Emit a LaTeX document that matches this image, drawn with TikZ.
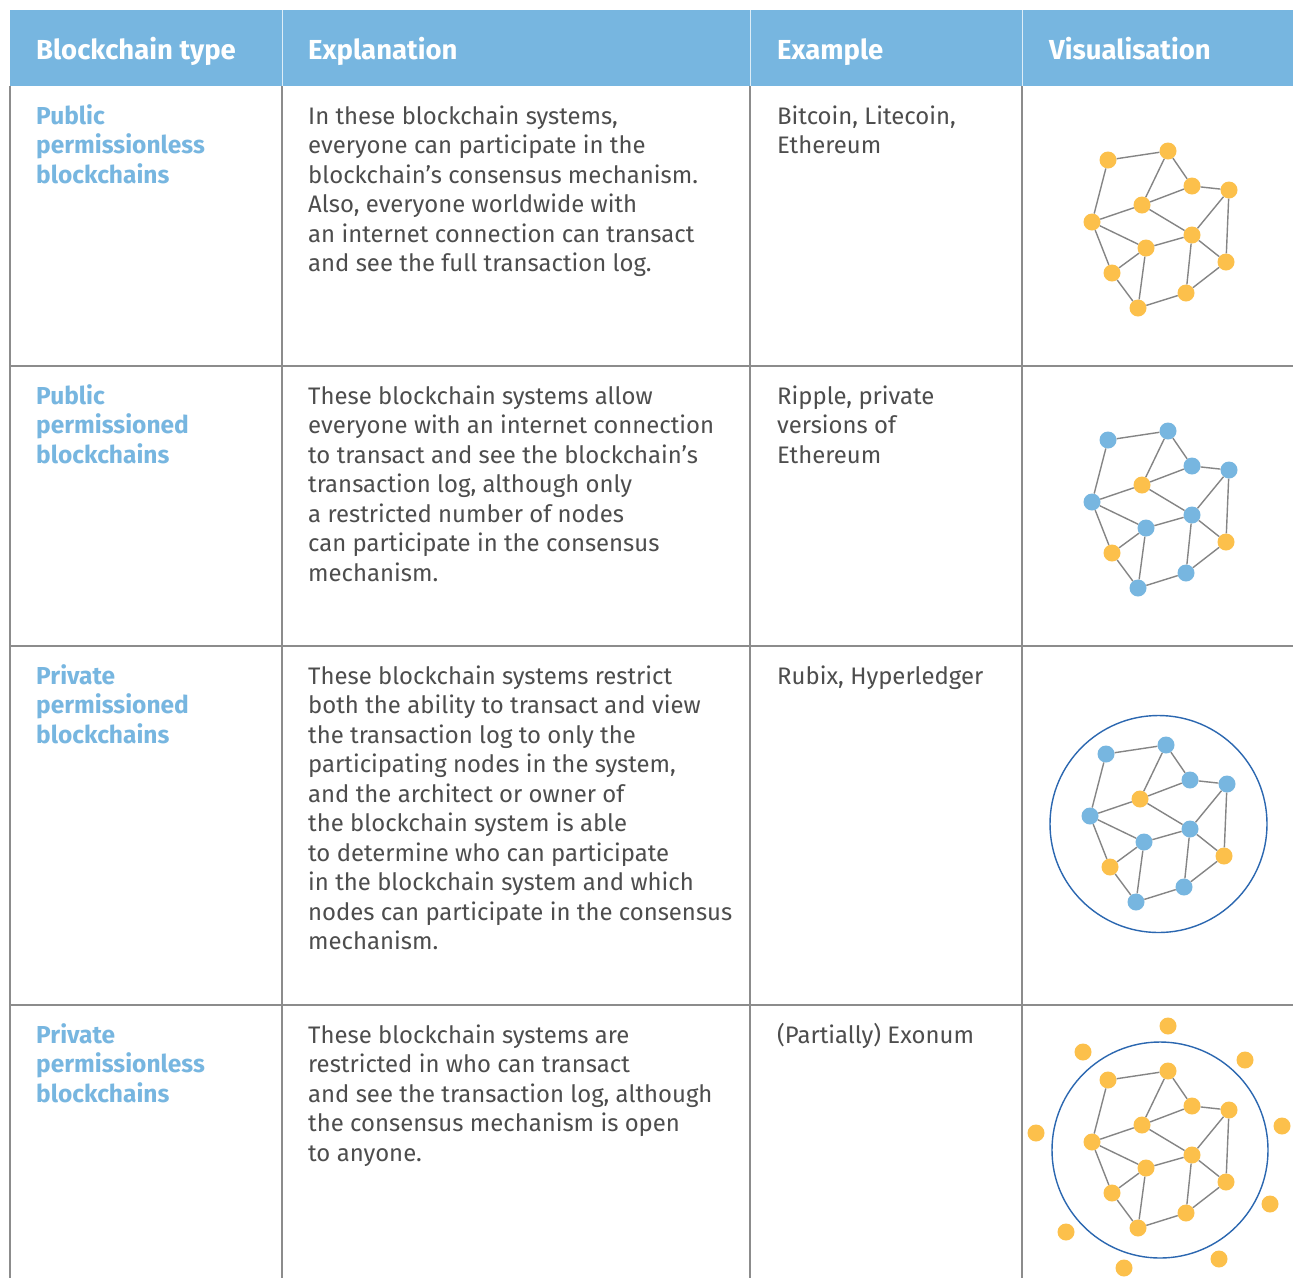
\documentclass[tikz,border=0pt]{standalone}
\usepackage{fontspec}
\setmainfont{Fira Sans}
\definecolor{hdr}{HTML}{77B6E0}
\definecolor{blu}{HTML}{77B6E0}
\definecolor{org}{HTML}{FCC04B}
\definecolor{txt}{HTML}{4D4D4D}
\definecolor{grid}{HTML}{8C8C8C}
\definecolor{ring}{HTML}{2B67B0}
\definecolor{edgec}{HTML}{858585}
\newcommand{\cell}[1]{\parbox[t]{600pt}{\raggedright #1}}
\tikzset{
  hdrtext/.style={anchor=base west, inner sep=0pt, text=white, font=\fontsize{27.5}{30}\selectfont\bfseries},
  bodytext/.style={anchor=base west, inner sep=0pt, text=txt, font=\fontsize{23.9}{29.5}\selectfont},
  typetext/.style={anchor=base west, inner sep=0pt, text=blu, font=\fontsize{24.5}{29.5}\selectfont\bfseries},
  gridline/.style={draw=grid, line width=1.3pt},
  dot/.style={circle, draw=none, inner sep=0pt, minimum size=17pt},
  edge/.style={draw=edgec, line width=1.4pt},
  ringc/.style={circle, draw=ring, line width=1.4pt, inner sep=0pt, fill=none}
}
\newcommand{\netgraph}[3]{%
\begin{scope}[shift={#2}]
\foreach \i/\x/\y in {1/1108/160,2/1168/151,3/1192/186,4/1229/190,5/1142/205,6/1092/222,7/1192/235,8/1146/248,9/1226/262,10/1112/273,11/1186/293,12/1138/308}
  \coordinate (#1c\i) at (\x,\y);
\end{scope}
\foreach \i/\c in {#3}
  \node[dot, fill=\c] (#1\i) at (#1c\i) {};
\foreach \a/\b in {1/2,1/6,2/5,2/3,3/4,3/5,5/6,5/7,4/7,4/9,6/8,6/10,7/8,7/9,7/11,8/10,8/12,10/12,9/11,11/12}
  \draw[edge] (#1\a) -- (#1\b);
}
\begin{document}
\begin{tikzpicture}[x=1pt,y=-1pt]
\useasboundingbox (0,0) rectangle (1293,1278);
\fill[white] (0,0) rectangle (1293,1278);
% header
\fill[hdr] (10,10) rectangle (1293,86);
\foreach \xx in {282,750,1022} \draw[white!75!hdr, line width=1pt] (\xx,10) -- (\xx,86);
% grid
\foreach \xx in {10,282,750,1022} \draw[gridline] (\xx,86) -- (\xx,1278);
\foreach \yy in {366,646,1005} \draw[gridline] (10,\yy) -- (1293,\yy);
% header texts
\node[hdrtext] (h1) at (36,59) {Blockchain type};
\node[hdrtext] (h2) at (308,59) {Explanation};
\node[hdrtext] (h3) at (777,59) {Example};
\node[hdrtext] (h4) at (1049,59) {Visualisation};
% row 1
\node[typetext] (t1) at (36,124) {\cell{Public\\permissionless\\blockchains}};
\node[bodytext] (e1) at (308,124) {\cell{In these blockchain systems,\\everyone can participate in the\\blockchain’s consensus mechanism.\\Also, everyone worldwide with\\an internet connection can transact\\and see the full transaction log.}};
\node[bodytext] (x1) at (777,124) {\cell{Bitcoin, Litecoin,\\Ethereum}};
% row 2
\node[typetext] (t2) at (36,404) {\cell{Public\\permissioned\\blockchains}};
\node[bodytext] (e2) at (308,404) {\cell{These blockchain systems allow\\everyone with an internet connection\\to transact and see the blockchain’s\\transaction log, although only\\a restricted number of nodes\\can participate in the consensus\\mechanism.}};
\node[bodytext] (x2) at (777,404) {\cell{Ripple, private\\versions of\\Ethereum}};
% row 3
\node[typetext] (t3) at (36,684) {\cell{Private\\permissioned\\blockchains}};
\node[bodytext] (e3) at (308,684) {\cell{These blockchain systems restrict\\both the ability to transact and view\\the transaction log to only the\\participating nodes in the system,\\and the architect or owner of\\the blockchain system is able\\to determine who can participate\\in the blockchain system and which\\nodes can participate in the consensus\\mechanism.}};
\node[bodytext] (x3) at (777,684) {\cell{Rubix, Hyperledger}};
% row 4
\node[typetext] (t4) at (36,1043) {\cell{Private\\permissionless\\blockchains}};
\node[bodytext] (e4) at (308,1043) {\cell{These blockchain systems are\\restricted in who can transact\\and see the transaction log, although\\the consensus mechanism is open\\to anyone.}};
\node[bodytext] (x4) at (777,1043) {\cell{(Partially) Exonum}};
% graphs
\netgraph{a}{(0,0)}{1/org,2/org,3/org,4/org,5/org,6/org,7/org,8/org,9/org,10/org,11/org,12/org}
\netgraph{b}{(0,280)}{1/blu,2/blu,3/blu,4/blu,5/org,6/blu,7/blu,8/blu,9/org,10/org,11/blu,12/blu}
\node[ringc, minimum size=217pt] (r3) at (1158.5,824) {};
\netgraph{c}{(-2,594)}{1/blu,2/blu,3/blu,4/blu,5/org,6/blu,7/blu,8/blu,9/org,10/org,11/blu,12/blu}
\node[ringc, minimum size=216pt] (r4) at (1160,1150) {};
\netgraph{d}{(0,920)}{1/org,2/org,3/org,4/org,5/org,6/org,7/org,8/org,9/org,10/org,11/org,12/org}
\foreach \i/\x/\y in {1/1168/1026,2/1083/1052,3/1245/1060,4/1036/1133,5/1282/1126,6/1270/1204,7/1066/1232,8/1124/1268,9/1219/1259}
  \node[dot, fill=org] (o\i) at (\x,\y) {};
\end{tikzpicture}
\end{document}
